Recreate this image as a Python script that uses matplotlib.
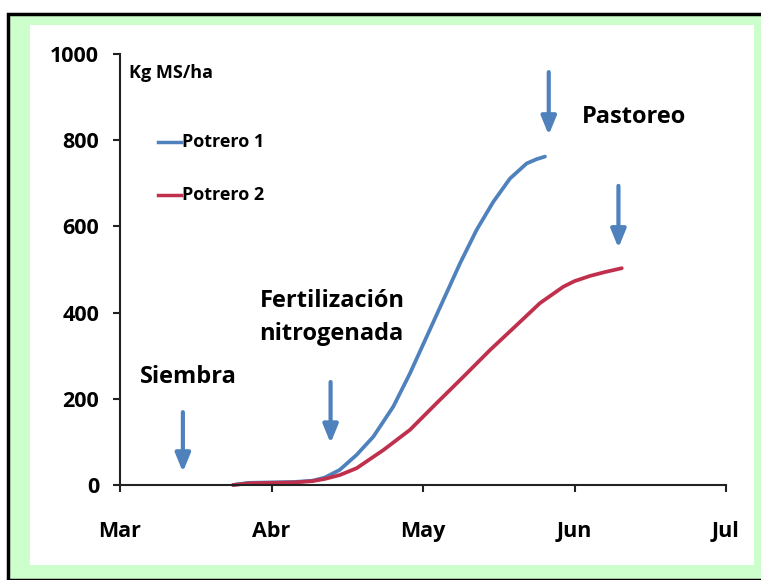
import numpy as np
import matplotlib
matplotlib.use('Agg')
import matplotlib.pyplot as plt
from matplotlib.patches import Rectangle

plt.rcParams['font.family'] = ['Open Sans', 'DejaVu Sans']

# x = months since 1 Mar (0=Mar ... 4=Jul), y = kg MS/ha
months = ['Mar', 'Abr', 'May', 'Jun', 'Jul']
yticks = [0, 200, 400, 600, 800, 1000]

p1_x = [0.746, 0.85, 1.0, 1.15, 1.27, 1.35, 1.45, 1.562, 1.672, 1.804, 1.914,
        2.024, 2.134, 2.244, 2.354, 2.464, 2.574, 2.684, 2.75, 2.805]
p1_y = [0, 5, 6, 7, 10, 17, 35, 70, 112, 182, 259,
        344, 429, 514, 592, 657, 711, 746, 756, 762]

p2_x = [0.746, 0.85, 1.0, 1.15, 1.27, 1.35, 1.45, 1.562, 1.738, 1.914, 2.09,
        2.266, 2.442, 2.618, 2.772, 2.926, 3.0, 3.102, 3.2, 3.312]
p2_y = [0, 4, 5, 6, 9, 14, 23, 39, 81, 128, 190,
        251, 313, 371, 422, 460, 473, 485, 494, 503]

# arrows: (x, y top, y tip)
arrows = [(0.415, 169, 30), (1.39, 239, 97), (2.83, 958, 812), (3.29, 694, 550)]

blue = '#4F81BD'
red = '#C0304D'

fig = plt.figure(figsize=(7.61, 5.80), dpi=100)
W, H = 761.0, 580.0
fig.patches.append(Rectangle((8 / W, 0), 1, 1 - 14 / H, transform=fig.transFigure,
                             facecolor='#CCFFCC', edgecolor='black', lw=2.5, zorder=-10))
fig.patches.append(Rectangle((30 / W, 1 - 565 / H), (754 - 30) / W, (565 - 25) / H,
                             transform=fig.transFigure, facecolor='white',
                             edgecolor='none', zorder=-9))

ax = fig.add_axes([120 / W, 1 - 485 / H, 606 / W, 431 / H])
ax.patch.set_alpha(0)
ax.set_xlim(0, 4)
ax.set_ylim(0, 1000)
ax.plot(p1_x, p1_y, color=blue, lw=2.7, solid_capstyle='round',
        solid_joinstyle='round', clip_on=False)
ax.plot(p2_x, p2_y, color=red, lw=2.7, solid_capstyle='round',
        solid_joinstyle='round', clip_on=False)

for x, y0, y1 in arrows:
    ax.annotate('', xy=(x, y1), xytext=(x, y0),
                arrowprops=dict(arrowstyle='-|>,head_width=0.45,head_length=1.1',
                                color=blue, lw=3, shrinkA=0, shrinkB=0))

ax.set_xticks(range(len(months)))
ax.set_xticklabels(months)
ax.set_yticks(yticks)
for s in ['top', 'right']:
    ax.spines[s].set_visible(False)
for s in ['left', 'bottom']:
    ax.spines[s].set_color('#222222')
    ax.spines[s].set_linewidth(1.5)
ax.tick_params(axis='both', direction='out', length=5, width=1.5, color='#222222',
               labelsize=15.5)
ax.tick_params(axis='x', pad=21)
ax.tick_params(axis='y', pad=10)
for lab in ax.get_xticklabels() + ax.get_yticklabels():
    lab.set_fontweight('bold')

# legend drawn as in the original (line + label)
ax.plot([0.25, 0.4], [796, 796], color=blue, lw=2.5, clip_on=False)
ax.plot([0.25, 0.4], [673, 673], color=red, lw=2.5, clip_on=False)
ax.text(0.41, 796, 'Potrero 1', fontsize=13, fontweight='bold', va='center')
ax.text(0.41, 673, 'Potrero 2', fontsize=13, fontweight='bold', va='center')

ax.text(0.06, 955, 'Kg MS/ha', fontsize=13, fontweight='bold', va='center')
ax.text(0.45, 251, 'Siembra', fontsize=17, fontweight='bold', ha='center', va='center')
ax.text(0.92, 389, 'Fertilización\nnitrogenada', fontsize=17, fontweight='bold',
        ha='left', va='center', linespacing=1.5)
ax.text(3.39, 853, 'Pastoreo', fontsize=17, fontweight='bold', ha='center', va='center')

fig.savefig('out.png', dpi=100)
